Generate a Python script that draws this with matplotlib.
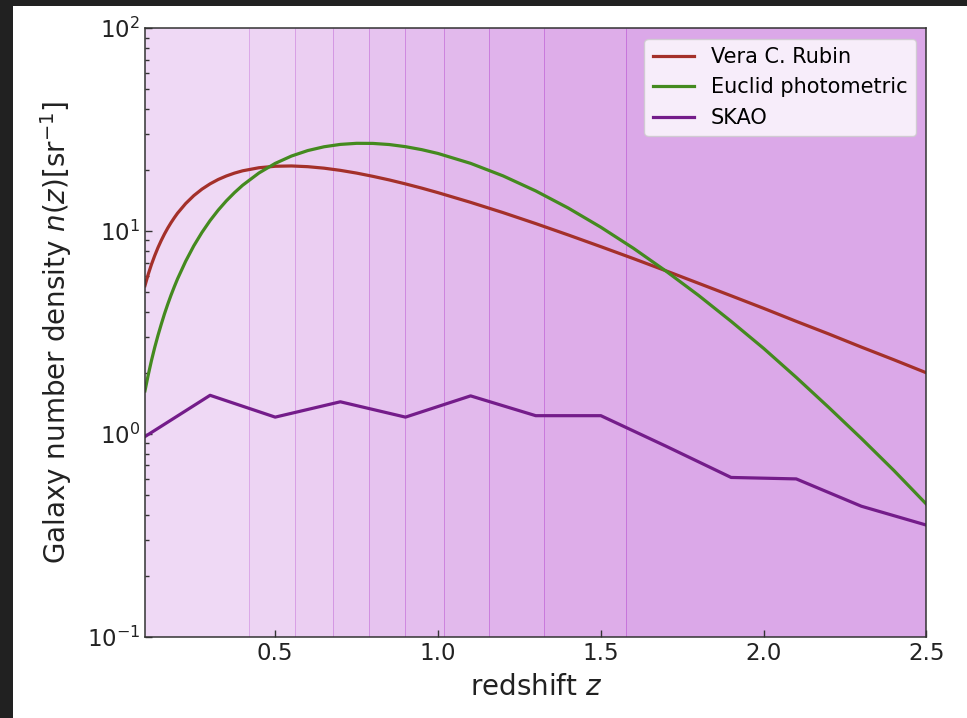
import numpy as np
import matplotlib.pyplot as plt
from matplotlib.patches import Rectangle

# redshift grid for the smooth survey curves (denser where they turn fast)
z_smooth = [0.10, 0.11, 0.12, 0.13, 0.14, 0.15, 0.16, 0.17, 0.18, 0.19, 0.20,
            0.225, 0.25, 0.275, 0.30, 0.325, 0.35, 0.375, 0.40, 0.45, 0.50, 0.55,
            0.60, 0.65, 0.70, 0.75, 0.80, 0.85, 0.90, 0.95, 1.00, 1.10, 1.20, 1.30,
            1.40, 1.50, 1.60, 1.70, 1.80, 1.90, 2.00, 2.10, 2.20, 2.30, 2.40, 2.50]

n_rubin = [5.38, 6.12, 6.85, 7.57, 8.29, 8.99, 9.68, 10.35, 11.00, 11.63, 12.25,
           13.67, 14.96, 16.10, 17.10, 17.97, 18.70, 19.32, 19.83, 20.53, 20.88, 20.95,
           20.78, 20.43, 19.93, 19.32, 18.62, 17.88, 17.09, 16.29, 15.47, 13.86, 12.33, 10.89,
           9.57, 8.38, 7.32, 6.37, 5.53, 4.80, 4.16, 3.59, 3.11, 2.68, 2.32, 2.00]

n_euclid = [1.63, 1.95, 2.30, 2.67, 3.06, 3.47, 3.91, 4.36, 4.83, 5.31, 5.81,
            7.10, 8.46, 9.85, 11.27, 12.69, 14.10, 15.48, 16.83, 19.34, 21.57, 23.45,
            24.95, 26.05, 26.76, 27.09, 27.06, 26.72, 26.08, 25.21, 24.14, 21.58, 18.71, 15.78,
            12.99, 10.45, 8.23, 6.35, 4.82, 3.59, 2.64, 1.90, 1.35, 0.95, 0.66, 0.45]

# SKAO tabulated n(z)
z_skao = [0.1, 0.3, 0.5, 0.7, 0.9, 1.1, 1.3, 1.5, 1.7, 1.9, 2.1, 2.3, 2.5]
n_skao = [0.97, 1.55, 1.21, 1.44, 1.21, 1.54, 1.23, 1.23, 0.87, 0.61, 0.60, 0.44, 0.355]

# Euclid tomographic bin edges
bin_edges = [0.001, 0.418, 0.560, 0.678, 0.789, 0.900, 1.019, 1.155, 1.324, 1.576, 2.50]

fig = plt.figure(figsize=(9.67, 7.18), dpi=100)
fig.patch.set_facecolor("#212121")
fig.patches.append(Rectangle((13 / 967, 0), 1, 1 - 6 / 718, transform=fig.transFigure,
                             facecolor="white", edgecolor="none", zorder=-10))

ax = fig.add_axes([0.1499, 0.1132, 0.8082, 0.8474])

band_alpha = np.linspace(0.22, 0.51, len(bin_edges) - 1)
for i in range(len(bin_edges) - 1):
    ax.axvspan(bin_edges[i], bin_edges[i + 1], color="mediumorchid",
               alpha=band_alpha[i], lw=0.6, zorder=0)

ax.plot(z_smooth, n_rubin, color="#a4302a", lw=2.3, label="Vera C. Rubin")
ax.plot(z_smooth, n_euclid, color="#448a1f", lw=2.3, label="Euclid photometric")
ax.plot(z_skao, n_skao, color="#741c8a", lw=2.3, label="SKAO")

ax.set_yscale("log")
ax.set_xlim(0.1, 2.5)
ax.set_ylim(1e-1, 1e2)
ax.set_xticks([0.5, 1.0, 1.5, 2.0, 2.5])

ax.tick_params(which="both", direction="in", labelsize=16.5, width=1.0,
               color="#333333", labelcolor="#222222")
ax.tick_params(which="major", length=4.8)
ax.tick_params(which="minor", length=2.8)
for s in ax.spines.values():
    s.set_linewidth(1.1)
    s.set_color("#333333")

ax.set_xlabel("redshift $z$", fontsize=20, color="#222222", labelpad=6)
ax.set_ylabel(r"Galaxy number density $n(z)[\mathrm{sr}^{-1}]$", fontsize=20,
              color="#222222", labelpad=9)

ax.legend(loc="upper right", fontsize=15)

fig.savefig("out.png", dpi=100, facecolor=fig.get_facecolor())
